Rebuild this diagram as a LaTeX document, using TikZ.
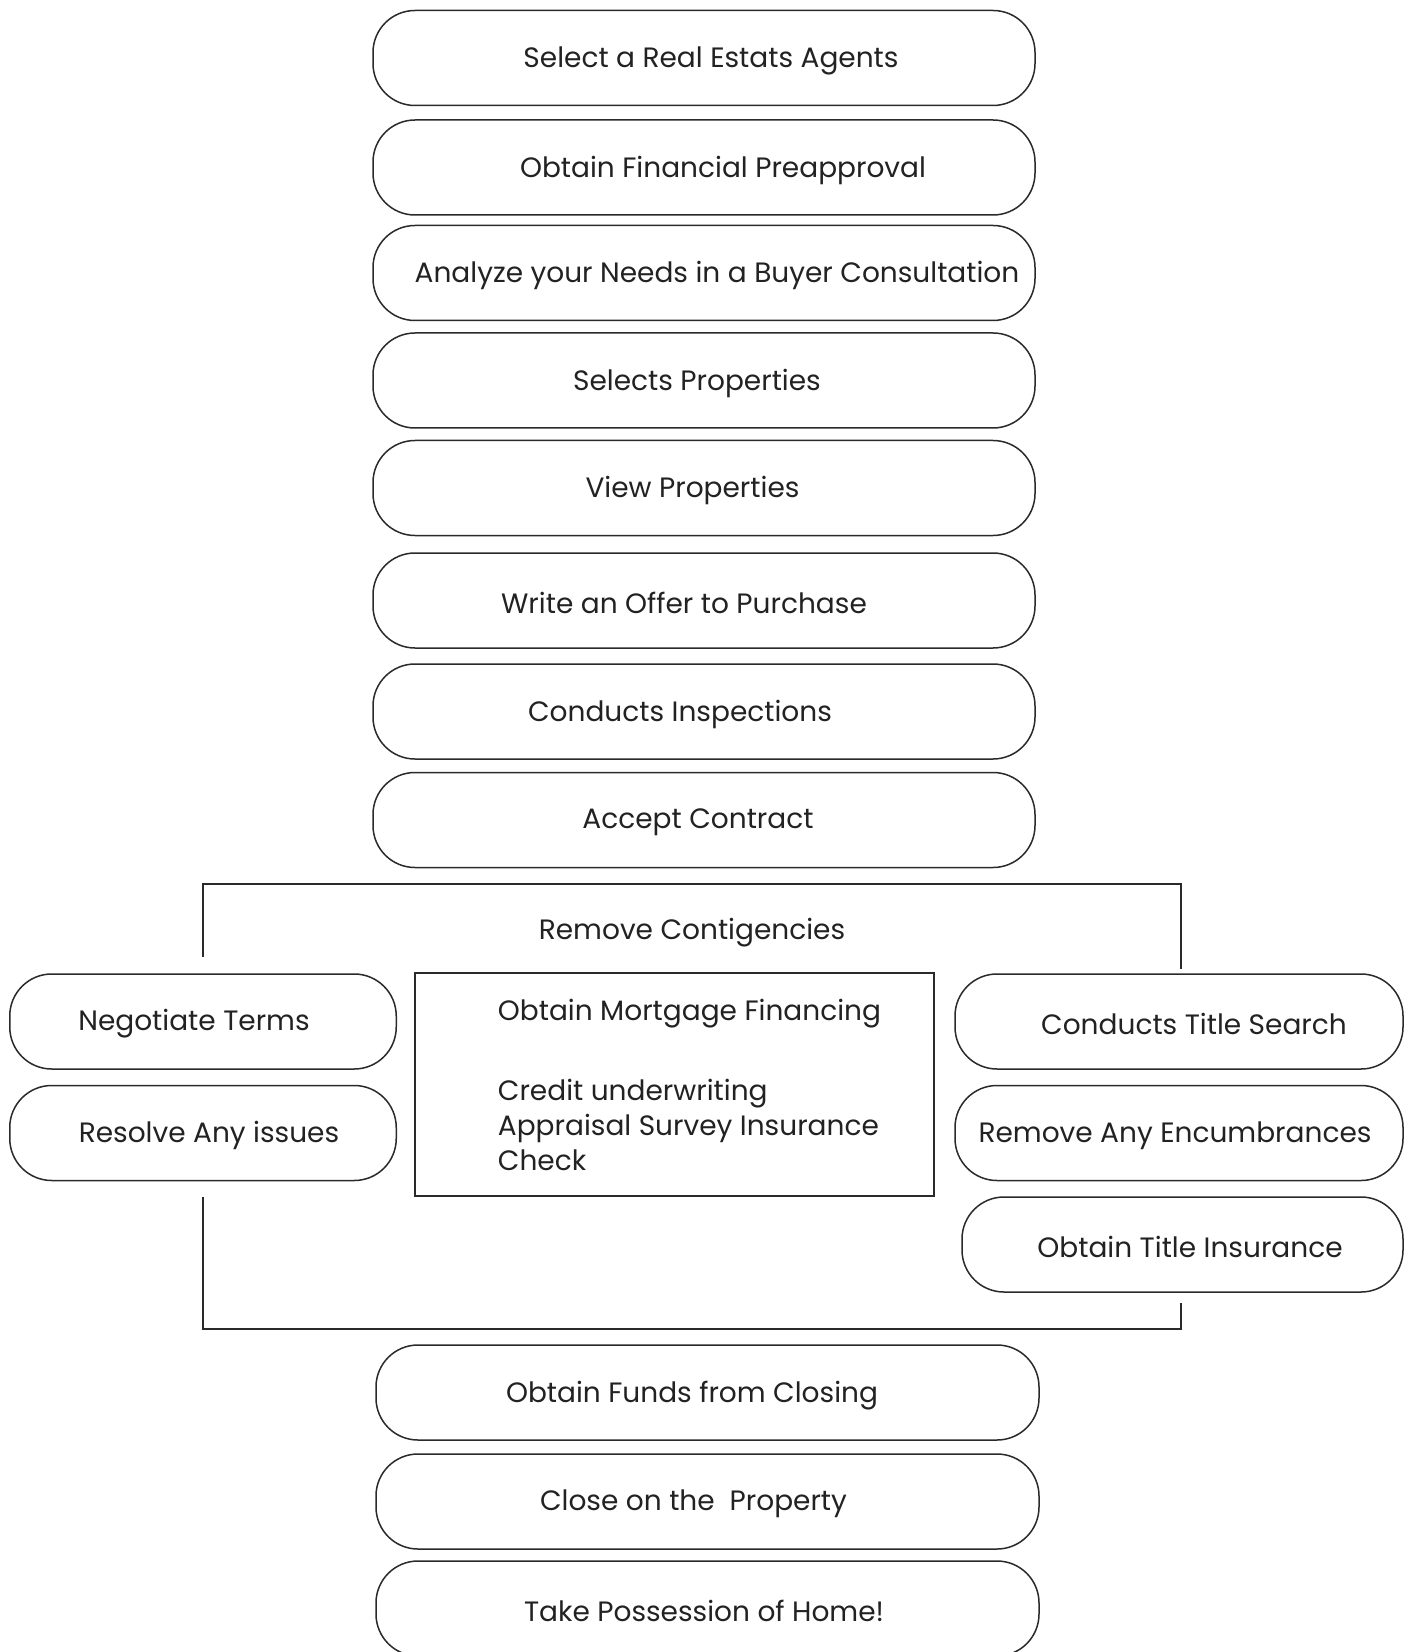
\documentclass[tikz,border=0pt]{standalone}
\usepackage{fontspec}
\setmainfont{Poppins}
\definecolor{linec}{HTML}{2A2A2A}
\definecolor{textc}{HTML}{222222}
\tikzset{
  pill/.style={draw=linec, line width=0.75pt, rounded corners=21pt, minimum height=47.5pt, inner sep=0pt},
  mainpill/.style={pill, minimum width=331pt},
  leftpill/.style={pill, minimum width=193.25pt},
  rightpill/.style={pill, minimum width=224pt},
  botpill/.style={pill, minimum width=331.5pt},
  lbl/.style={text=textc, font=\fontsize{14}{17.5}\selectfont, yshift=-1.3pt},
  bracketline/.style={draw=linec, line width=0.75pt},
}
\begin{document}
\begin{tikzpicture}[x=0.5pt,y=-0.5pt]
\useasboundingbox (0,0) rectangle (1408,1652);
\fill[white] (0,0) rectangle (1408,1652);
% main column
\node[mainpill, label={[lbl,xshift=3.5pt]center:Select a Real Estats Agents}] (b1) at (704,58) {};
\node[mainpill, label={[lbl,xshift=9.5pt]center:Obtain Financial Preapproval}] (b2) at (704,167.5) {};
\node[mainpill, label={[lbl,xshift=6.5pt]center:Analyze your Needs in a Buyer Consultation}] (b3) at (704,273) {};
\node[mainpill, label={[lbl,xshift=-3.5pt]center:Selects Properties}] (b4) at (704,380.5) {};
\node[mainpill, label={[lbl,xshift=-5.75pt]center:View Properties}] (b5) at (704,488) {};
\node[mainpill, label={[lbl,xshift=-10pt]center:Write an Offer to Purchase}] (b6) at (704,600.5) {};
\node[mainpill, label={[lbl,xshift=-12pt]center:Conducts Inspections}] (b7) at (704,711.5) {};
\node[mainpill, label={[lbl,xshift=-3pt]center:Accept Contract}] (b8) at (704,820) {};
% bracket
\node[lbl] (rc) at (692,930.5) {Remove Contigencies};
\coordinate (tl) at (203,884);
\coordinate (tr) at (1181,884);
\coordinate (tlend) at (203,957);
\coordinate (trend) at (1181,968.5);
\coordinate (bl) at (203,1329);
\coordinate (br) at (1181,1329);
\coordinate (blend) at (203,1197);
\coordinate (brend) at (1181,1302.5);
\draw[bracketline] (tlend) -- (tl) -- (tr) -- (trend);
\draw[bracketline] (blend) -- (bl) -- (br) -- (brend);
% left
\node[leftpill, label={[lbl,xshift=-4.5pt]center:Negotiate Terms}] (l1) at (203,1021.5) {};
\node[leftpill, label={[lbl,xshift=3pt]center:Resolve Any issues}] (l2) at (203,1133) {};
% center
\node[draw=linec, line width=0.75pt, minimum width=259.5pt, minimum height=111.5pt, inner sep=0pt] (mid) at (674.5,1084.5) {};
\node[lbl, anchor=west, inner sep=0pt] (mort) at (497.5,1011) {Obtain Mortgage Financing};
\node[lbl, anchor=west, align=left, inner sep=0pt] (credit) at (497.5,1122) {Credit underwriting\\Appraisal Survey Insurance\\Check};
% right
\node[rightpill, label={[lbl,xshift=7.5pt]center:Conducts Title Search}] (r1) at (1179,1021.5) {};
\node[rightpill, label={[lbl,xshift=-2pt]center:Remove Any Encumbrances}] (r2) at (1179,1133) {};
\node[pill, minimum width=220.5pt, label={[lbl,xshift=3.75pt]center:Obtain Title Insurance}] (r3) at (1182.5,1244.5) {};
% bottom
\node[botpill, label={[lbl,xshift=-7.75pt]center:Obtain Funds from Closing}] (c1) at (707.5,1392.5) {};
\node[botpill, label={[lbl,xshift=-7pt]center:Close on the\ \ Property}] (c2) at (707.5,1501.5) {};
\node[botpill, label={[lbl,xshift=-1.75pt]center:Take Possession of Home!}] (c3) at (707.5,1608.5) {};
\end{tikzpicture}
\end{document}
